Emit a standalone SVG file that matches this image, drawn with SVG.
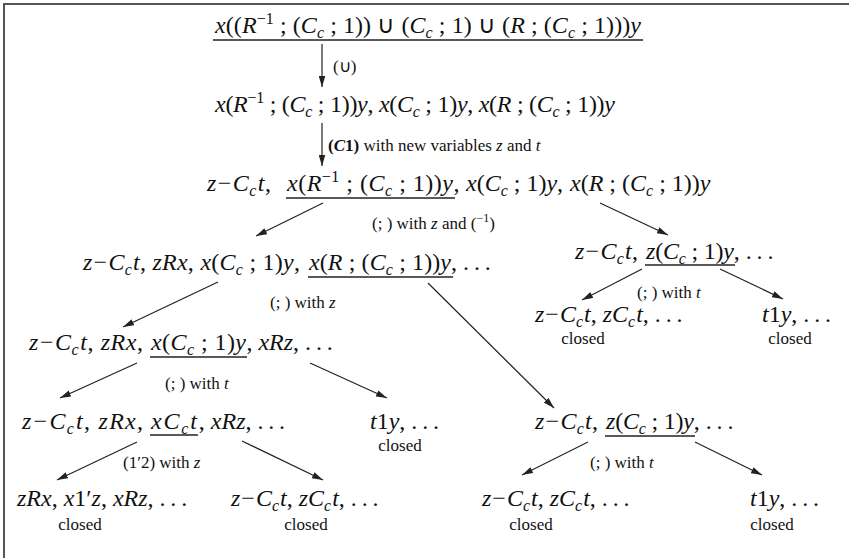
<svg xmlns="http://www.w3.org/2000/svg" width="849" height="558" viewBox="0 0 849 558">
<defs>
<style>
.m{font-family:"Liberation Serif",serif;font-size:24px;fill:#111}
.i{font-style:italic}
.s{font-size:16px}
.l{font-family:"Liberation Serif",serif;font-size:17px;fill:#111}
.u{stroke:#222;stroke-width:1.3}
.c line{stroke:#222;stroke-width:1.2;marker-end:url(#ah)}
</style>
<marker id="ah" viewBox="0 0 10 6" refX="10" refY="3" markerWidth="11" markerHeight="7" markerUnits="userSpaceOnUse" orient="auto"><path d="M0,0 L10,3 L0,6 z" fill="#222"/></marker>
</defs>
<rect width="849" height="558" fill="#fff"/>
<g id="frame"><line x1="3" y1="4" x2="849" y2="4" stroke="#555" stroke-width="2"/><line x1="4" y1="3" x2="4" y2="558" stroke="#555" stroke-width="2"/></g>

<g id="n1"><text class="m" x="215" y="33" textLength="426" lengthAdjust="spacing"><tspan class="i">x</tspan>((<tspan class="i">R</tspan><tspan class="s" dy="-9">−1</tspan><tspan dy="9"> ; (</tspan><tspan class="i">C</tspan><tspan class="s i" dy="5">c</tspan><tspan dy="-5"> ; 1)) ∪ (</tspan><tspan class="i">C</tspan><tspan class="s i" dy="5">c</tspan><tspan dy="-5"> ; 1) ∪ (</tspan><tspan class="i">R</tspan> ; (<tspan class="i">C</tspan><tspan class="s i" dy="5">c</tspan><tspan dy="-5"> ; 1)))</tspan><tspan class="i">y</tspan></text><line class="u" x1="213" y1="40" x2="643" y2="40"/></g>

<g id="n2"><text class="m" x="215" y="112" textLength="400" lengthAdjust="spacing"><tspan class="i">x</tspan>(<tspan class="i">R</tspan><tspan class="s" dy="-9">−1</tspan><tspan dy="9"> ; (</tspan><tspan class="i">C</tspan><tspan class="s i" dy="5">c</tspan><tspan dy="-5"> ; 1))</tspan><tspan class="i">y</tspan>, <tspan class="i">x</tspan>(<tspan class="i">C</tspan><tspan class="s i" dy="5">c</tspan><tspan dy="-5"> ; 1)</tspan><tspan class="i">y</tspan>, <tspan class="i">x</tspan>(<tspan class="i">R</tspan> ; (<tspan class="i">C</tspan><tspan class="s i" dy="5">c</tspan><tspan dy="-5"> ; 1))</tspan><tspan class="i">y</tspan></text></g>

<g id="n3"><text class="m" x="207" y="191"><tspan textLength="64" lengthAdjust="spacing"><tspan class="i">z</tspan><tspan dx="1">−</tspan><tspan class="i" dx="1">C</tspan><tspan class="s i" dy="5">c</tspan><tspan class="i" dy="-5" dx="1">t</tspan>,</tspan><tspan x="287" textLength="166" lengthAdjust="spacing"><tspan class="i">x</tspan>(<tspan class="i">R</tspan><tspan class="s" dy="-9">−1</tspan><tspan dy="9"> ; (</tspan><tspan class="i">C</tspan><tspan class="s i" dy="5">c</tspan><tspan dy="-5"> ; 1))</tspan><tspan class="i">y</tspan></tspan>,<tspan x="466"><tspan class="i">x</tspan>(<tspan class="i">C</tspan><tspan class="s i" dy="5">c</tspan><tspan dy="-5"> ; 1)</tspan><tspan class="i">y</tspan></tspan>,<tspan x="570"><tspan class="i">x</tspan>(<tspan class="i">R</tspan> ; (<tspan class="i">C</tspan><tspan class="s i" dy="5">c</tspan><tspan dy="-5"> ; 1))</tspan><tspan class="i">y</tspan></tspan></text><line class="u" x1="286" y1="198" x2="455" y2="198"/></g>

<g id="n4"><text class="m" x="83" y="270"><tspan textLength="217" lengthAdjust="spacing"><tspan class="i">z</tspan><tspan dx="1">−</tspan><tspan class="i" dx="1">C</tspan><tspan class="s i" dy="5">c</tspan><tspan class="i" dy="-5" dx="1">t</tspan>, <tspan class="i">zRx</tspan>, <tspan class="i">x</tspan>(<tspan class="i">C</tspan><tspan class="s i" dy="5">c</tspan><tspan dy="-5"> ; 1)</tspan><tspan class="i">y</tspan>,</tspan><tspan x="309" textLength="142" lengthAdjust="spacing"><tspan class="i">x</tspan>(<tspan class="i">R</tspan> ; (<tspan class="i">C</tspan><tspan class="s i" dy="5">c</tspan><tspan dy="-5"> ; 1))</tspan><tspan class="i">y</tspan></tspan>, .&#8201;.&#8201;.</text><line class="u" x1="308" y1="277" x2="453" y2="277"/></g>

<g id="n5"><text class="m" x="575" y="259"><tspan textLength="63" lengthAdjust="spacing"><tspan class="i">z</tspan><tspan dx="1">−</tspan><tspan class="i" dx="1">C</tspan><tspan class="s i" dy="5">c</tspan><tspan class="i" dy="-5" dx="1">t</tspan>,</tspan><tspan x="646" textLength="88" lengthAdjust="spacing"><tspan class="i">z</tspan>(<tspan class="i">C</tspan><tspan class="s i" dy="5">c</tspan><tspan dy="-5"> ; 1)</tspan><tspan class="i">y</tspan></tspan>, .&#8201;.&#8201;.</text><line class="u" x1="645" y1="265" x2="735" y2="265"/></g>

<g id="n6"><text class="m" x="535" y="322"><tspan class="i">z</tspan><tspan dx="1">−</tspan><tspan class="i" dx="1">C</tspan><tspan class="s i" dy="5">c</tspan><tspan class="i" dy="-5" dx="1">t</tspan>, <tspan class="i">zC</tspan><tspan class="s i" dy="5">c</tspan><tspan class="i" dy="-5" dx="1">t</tspan>, .&#8201;.&#8201;.</text><text class="l" x="583" y="344" text-anchor="middle">closed</text></g>

<g id="n7"><text class="m" x="762" y="322"><tspan class="i">t</tspan>1<tspan class="i">y</tspan>, .&#8201;.&#8201;.</text><text class="l" x="790" y="344" text-anchor="middle">closed</text></g>

<g id="n8"><text class="m" x="29" y="350"><tspan textLength="114" lengthAdjust="spacing"><tspan class="i">z</tspan><tspan dx="1">−</tspan><tspan class="i" dx="1">C</tspan><tspan class="s i" dy="5">c</tspan><tspan class="i" dy="-5" dx="1">t</tspan>, <tspan class="i">zRx</tspan>,</tspan><tspan x="151" textLength="95" lengthAdjust="spacing"><tspan class="i">x</tspan>(<tspan class="i">C</tspan><tspan class="s i" dy="5">c</tspan><tspan dy="-5"> ; 1)</tspan><tspan class="i">y</tspan></tspan>, <tspan class="i">xRz</tspan>, .&#8201;.&#8201;.</text><line class="u" x1="150" y1="357" x2="247" y2="357"/></g>

<g id="n9"><text class="m" x="22" y="429"><tspan textLength="121" lengthAdjust="spacing"><tspan class="i">z</tspan><tspan dx="1">−</tspan><tspan class="i" dx="1">C</tspan><tspan class="s i" dy="5">c</tspan><tspan class="i" dy="-5" dx="1">t</tspan>, <tspan class="i">zRx</tspan>,</tspan><tspan x="151" textLength="46" lengthAdjust="spacing"><tspan class="i">xC</tspan><tspan class="s i" dy="5">c</tspan><tspan class="i" dy="-5">t</tspan></tspan>, <tspan class="i">xRz</tspan>, .&#8201;.&#8201;.</text><line class="u" x1="150" y1="435" x2="198" y2="435"/></g>

<g id="n10"><text class="m" x="370" y="429"><tspan class="i">t</tspan>1<tspan class="i">y</tspan>, .&#8201;.&#8201;.</text><text class="l" x="400" y="451" text-anchor="middle">closed</text></g>

<g id="n11"><text class="m" x="535" y="429"><tspan textLength="63" lengthAdjust="spacing"><tspan class="i">z</tspan><tspan dx="1">−</tspan><tspan class="i" dx="1">C</tspan><tspan class="s i" dy="5">c</tspan><tspan class="i" dy="-5" dx="1">t</tspan>,</tspan><tspan x="606" textLength="88" lengthAdjust="spacing"><tspan class="i">z</tspan>(<tspan class="i">C</tspan><tspan class="s i" dy="5">c</tspan><tspan dy="-5"> ; 1)</tspan><tspan class="i">y</tspan></tspan>, .&#8201;.&#8201;.</text><line class="u" x1="605" y1="436" x2="695" y2="436"/></g>

<g id="n12"><text class="m" x="17" y="506"><tspan class="i">zRx</tspan>, <tspan class="i">x</tspan>1′<tspan class="i">z</tspan>, <tspan class="i">xRz</tspan>, .&#8201;.&#8201;.</text><text class="l" x="80" y="530" text-anchor="middle">closed</text></g>

<g id="n13"><text class="m" x="231" y="506"><tspan class="i">z</tspan><tspan dx="1">−</tspan><tspan class="i" dx="1">C</tspan><tspan class="s i" dy="5">c</tspan><tspan class="i" dy="-5" dx="1">t</tspan>, <tspan class="i">zC</tspan><tspan class="s i" dy="5">c</tspan><tspan class="i" dy="-5" dx="1">t</tspan>, .&#8201;.&#8201;.</text><text class="l" x="306" y="530" text-anchor="middle">closed</text></g>

<g id="n14"><text class="m" x="482" y="506"><tspan class="i">z</tspan><tspan dx="1">−</tspan><tspan class="i" dx="1">C</tspan><tspan class="s i" dy="5">c</tspan><tspan class="i" dy="-5" dx="1">t</tspan>, <tspan class="i">zC</tspan><tspan class="s i" dy="5">c</tspan><tspan class="i" dy="-5" dx="1">t</tspan>, .&#8201;.&#8201;.</text><text class="l" x="531" y="530" text-anchor="middle">closed</text></g>

<g id="n15"><text class="m" x="750" y="506"><tspan class="i">t</tspan>1<tspan class="i">y</tspan>, .&#8201;.&#8201;.</text><text class="l" x="772" y="530" text-anchor="middle">closed</text></g>

<g id="connectors" class="c">
<line x1="322" y1="44" x2="322" y2="87"/>
<line x1="322" y1="123" x2="322" y2="166"/>
<line x1="323" y1="203" x2="256" y2="236"/>
<line x1="600" y1="203" x2="668" y2="235"/>
<line x1="642" y1="269" x2="582" y2="300"/>
<line x1="720" y1="269" x2="783" y2="299"/>
<line x1="218" y1="282" x2="123" y2="327"/>
<line x1="428" y1="283" x2="554" y2="408"/>
<line x1="137" y1="363" x2="60" y2="398"/>
<line x1="310" y1="363" x2="387" y2="398"/>
<line x1="137" y1="442" x2="57" y2="480"/>
<line x1="242" y1="441" x2="323" y2="480"/>
<line x1="588" y1="442" x2="522" y2="475"/>
<line x1="695" y1="442" x2="762" y2="475"/>
</g>

<g id="labels">
<text class="l" x="333" y="72">(∪)</text>
<text class="l" x="328" y="151"><tspan font-weight="bold">(<tspan class="i">C</tspan>1)</tspan> with new variables <tspan class="i">z</tspan> and <tspan class="i">t</tspan></text>
<text class="l" x="372" y="229">(; ) with <tspan class="i">z</tspan> and (<tspan font-size="12" dy="-7">−1</tspan><tspan dy="7">)</tspan></text>
<text class="l" x="637" y="298">(; ) with <tspan class="i">t</tspan></text>
<text class="l" x="270" y="308">(; ) with <tspan class="i">z</tspan></text>
<text class="l" x="165" y="389">(; ) with <tspan class="i">t</tspan></text>
<text class="l" x="123" y="468">(1′2) with <tspan class="i">z</tspan></text>
<text class="l" x="590" y="468">(; ) with <tspan class="i">t</tspan></text>
</g>
</svg>
